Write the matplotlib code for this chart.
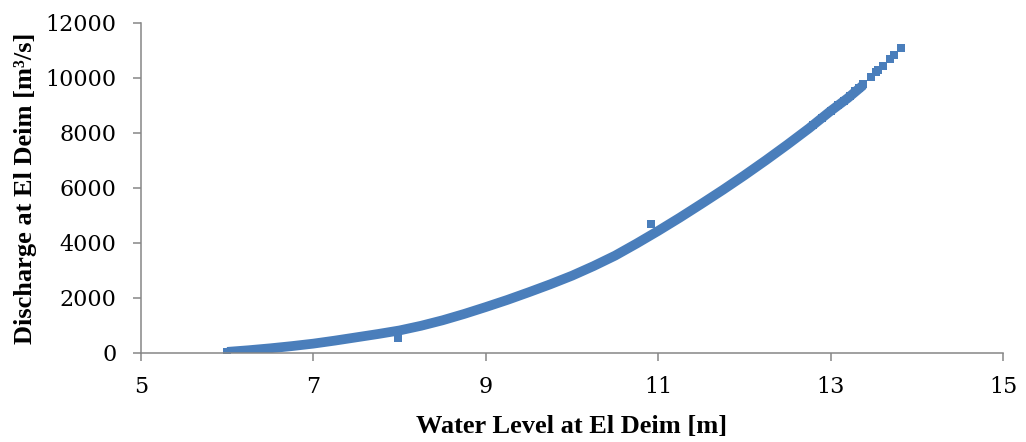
import numpy as np
import matplotlib
matplotlib.use("Agg")
import matplotlib.pyplot as plt

# water level [m] vs discharge [m3/s]
level_dense = [6.00, 6.25, 6.50, 6.75, 7.00, 7.25, 7.50, 7.75, 8.00, 8.25, 8.50,
               8.75, 9.00, 9.25, 9.50, 9.75, 10.00, 10.25, 10.50, 10.75, 11.00,
               11.25, 11.50, 11.75, 12.00, 12.25, 12.50, 12.75, 13.00, 13.20, 13.38]
flow_dense = [40, 100, 170, 250, 340, 450, 570, 690, 820, 990, 1190,
              1420, 1670, 1930, 2210, 2500, 2810, 3160, 3540, 3980, 4440,
              4920, 5420, 5930, 6460, 7010, 7580, 8170, 8800, 9270, 9745]

# individual points near the top end
level_sparse = [12.80, 12.90, 13.00, 13.08, 13.15, 13.22, 13.28, 13.33, 13.38,
                13.47, 13.53, 13.55, 13.61, 13.69, 13.73, 13.82]
flow_sparse = [8300, 8560, 8800, 9000, 9170, 9350, 9520, 9640, 9780,
               10050, 10230, 10290, 10450, 10690, 10840, 11080]

# stray points off the curve
level_out = [7.985, 10.92]
flow_out = [535, 4690]

blue = '#4a7ebb'
gray = '#868686'

fig = plt.figure(figsize=(10.26, 4.42), dpi=100)
ax = fig.add_axes([0.1374, 0.2014, 0.8402, 0.7466])

ax.plot(level_dense, flow_dense, '-', color=blue, lw=7, solid_capstyle='butt')
ax.plot(level_sparse, flow_sparse, 's', color=blue, ms=5.2, mew=0)
ax.plot(level_dense[:1], flow_dense[:1], 's', color=blue, ms=5.2, mew=0)
ax.plot(level_out, flow_out, 's', color=blue, ms=5.2, mew=0)

ax.set_xlim(5, 15)
ax.set_ylim(0, 12000)
ax.set_xticks(np.arange(5, 16, 2))
ax.set_yticks(np.arange(0, 12001, 2000))

for s in ['top', 'right']:
    ax.spines[s].set_visible(False)
for s in ['left', 'bottom']:
    ax.spines[s].set_color(gray)
    ax.spines[s].set_linewidth(1.1)
ax.tick_params(direction='out', length=5.8, width=1.1, color=gray,
               labelsize=16, labelcolor='black')
ax.tick_params(axis='x', pad=11)
ax.tick_params(axis='y', pad=12)
for lab in ax.get_xticklabels() + ax.get_yticklabels():
    lab.set_family('DejaVu Serif')

ax.set_xlabel('Water Level at El Deim [m]', family='Liberation Serif',
              fontweight='bold', fontsize=19, labelpad=12)
ax.set_ylabel('Discharge at El Deim [m³/s]', family='Liberation Serif',
              fontweight='bold', fontsize=19, labelpad=6)

fig.savefig('out.png', dpi=100)
